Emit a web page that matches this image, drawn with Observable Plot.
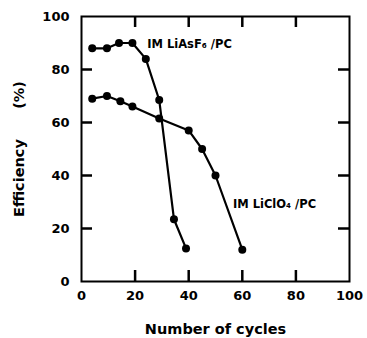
<!DOCTYPE html>
<html>
<head>
<meta charset="utf-8">
<script src="https://cdn.jsdelivr.net/npm/d3@7"></script>
<script src="https://cdn.jsdelivr.net/npm/@observablehq/plot@0.6"></script>
<style>
  html, body { margin: 0; padding: 0; background: #fff; }
  svg { font-family: "DejaVu Sans", sans-serif; font-weight: bold; }
  g[aria-label="y-axis label"] text { font-size: 14.5px; }
  g[aria-label="x-axis label"] text { font-size: 14.5px; }
</style>
</head>
<body>
<div id="chart"></div>
<script>
const cyclesAsF6 = [4, 9.5, 14, 19, 24, 29, 34.5, 39];
const effAsF6    = [88, 88, 90, 90, 84, 68.5, 23.5, 12.5];
const cyclesClO4 = [4, 9.5, 14.5, 19, 29, 40, 45, 50, 60];
const effClO4    = [69, 70, 68, 66, 61.5, 57, 50, 40, 12];
const seriesNames = ["IM LiAsF\u2086 /PC", "IM LiClO\u2084 /PC"];
const labelX = [24.5, 56.5];
const labelY = [89.5, 29];
const tickValues = [0, 20, 40, 60, 80, 100];
const innerTicks = [20, 40, 60, 80];

const W = 367, H = 338;
const mL = 81, mR = 18, mT = 16, mB = 57;
const innerH = H - mT - mB, innerW = W - mL - mR;
const tickLen = 11;

const asf6 = cyclesAsF6.map((c, i) => ({cycles: c, eff: effAsF6[i]}));
const clo4 = cyclesClO4.map((c, i) => ({cycles: c, eff: effClO4[i]}));
const labels = seriesNames.map((n, i) => ({name: n, x: labelX[i], y: labelY[i]}));

const chart = Plot.plot({
  width: W, height: H,
  marginLeft: mL, marginRight: mR, marginTop: mT, marginBottom: mB,
  style: {fontSize: "13px", fontFamily: "DejaVu Sans, sans-serif", color: "#000", background: "#fff"},
  x: {domain: [0, 100]},
  y: {domain: [0, 100]},
  marks: [
    Plot.frame({stroke: "#000", strokeWidth: 2}),
    Plot.ruleX(innerTicks, {x: d => d, insetTop: innerH - tickLen, stroke: "#000", strokeWidth: 2.5}),
    Plot.ruleX(innerTicks, {x: d => d, insetBottom: innerH - tickLen, stroke: "#000", strokeWidth: 2.5}),
    Plot.ruleY(innerTicks, {y: d => d, insetRight: innerW - tickLen, stroke: "#000", strokeWidth: 2.5}),
    Plot.ruleY(innerTicks, {y: d => d, insetLeft: innerW - tickLen, stroke: "#000", strokeWidth: 2.5}),
    Plot.axisX({ticks: tickValues, tickSize: 0, tickPadding: 9, label: "Number of cycles", labelAnchor: "center", labelOffset: 52, labelArrow: "none"}),
    Plot.axisY({ticks: tickValues, tickSize: 0, tickPadding: 12, label: "Efficiency\u00a0\u00a0\u00a0\u00a0\u00a0\u00a0(%)", labelAnchor: "center", labelOffset: 68, labelArrow: "none"}),
    Plot.line(asf6, {x: "cycles", y: "eff", stroke: "#000", strokeWidth: 2.2}),
    Plot.line(clo4, {x: "cycles", y: "eff", stroke: "#000", strokeWidth: 2.2}),
    Plot.dot(asf6, {x: "cycles", y: "eff", r: 4, fill: "#000"}),
    Plot.dot(clo4, {x: "cycles", y: "eff", r: 4, fill: "#000"}),
    Plot.text(labels, {x: "x", y: "y", text: "name", textAnchor: "start", fontSize: 11.5, fontWeight: "bold", fill: "#000"})
  ]
});
document.getElementById("chart").appendChild(chart);
</script>
</body>
</html>
